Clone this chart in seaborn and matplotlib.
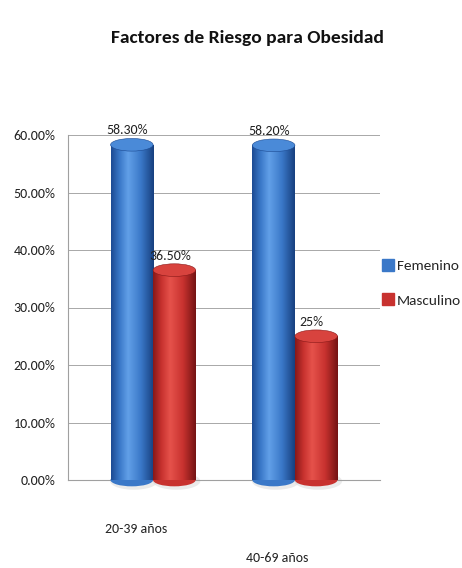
import numpy as np
import pandas as pd
import matplotlib
matplotlib.use("Agg")
import matplotlib.pyplot as plt
from matplotlib import font_manager
from matplotlib.patches import Ellipse
from matplotlib.lines import Line2D
from matplotlib.colors import LinearSegmentedColormap
from matplotlib.transforms import ScaledTranslation
import seaborn as sns

# ---- data ----
grupos = ["20-39 años", "40-69 años"]
series = ["Femenino", "Masculino"]
femenino = [58.3, 58.2]
masculino = [36.5, 25.0]
etiquetas_fem = ["58.30%", "58.20%"]
etiquetas_mas = ["36.50%", "25%"]
yticks = [0, 10, 20, 30, 40, 50, 60]
ytick_labels = ["0.00%", "10.00%", "20.00%", "30.00%", "40.00%", "50.00%", "60.00%"]
titulo = "Factores de Riesgo para Obesidad"

df = pd.DataFrame({
    "grupo": grupos * 2,
    "sexo": [series[0]] * len(grupos) + [series[1]] * len(grupos),
    "valor": femenino + masculino,
})

sns.set_theme(style="white")
names = {f.name for f in font_manager.fontManager.ttflist}
prefs = ["Carlito", "Liberation Sans Narrow", "Roboto Condensed", "Lato"]
fams = [p for p in prefs if p in names] + ["DejaVu Sans"]
plt.rcParams["font.family"] = fams

blue = "#3a78c8"
red = "#c8322f"
shades = {
    blue: ["#1c4a92", "#3a78c8", "#62a0e8", "#3a78c8", "#173f7e"],
    red: ["#871818", "#c8322f", "#e6524b", "#c8322f", "#731313"],
}
tops = {blue: "#4a8ad8", red: "#d8433e"}

fig = plt.figure(figsize=(4.62, 5.68), dpi=100)
ax = fig.add_axes([68 / 462, 88 / 568, 312 / 462, 345 / 568])

sns.barplot(data=df, x="grupo", y="valor", hue="sexo", palette=[blue, red],
            width=0.6, gap=0.0, saturation=1, legend=False, ax=ax,
            edgecolor="none", zorder=3)

grad = np.linspace(0, 1, 256).reshape(1, -1)
labels_all = etiquetas_fem + etiquetas_mas
colors_all = [blue] * len(grupos) + [red] * len(grupos)
for patch, lab, col in zip(ax.patches, labels_all, colors_all):
    x0, w, h = patch.get_x(), patch.get_width(), patch.get_height()
    cmap = LinearSegmentedColormap.from_list("c", list(zip([0, 0.2, 0.4, 0.7, 1], shades[col])))
    # soft shadow
    ax.add_patch(Ellipse((x0 + w / 2 + 0.015, -0.2), w * 1.12, 3.0, facecolor="#d4d4d4",
                         alpha=0.45, edgecolor="none", zorder=2.5, clip_on=False))
    ax.add_patch(Ellipse((x0 + w / 2, 0), w, 2.2, facecolor=shades[col][1],
                         edgecolor="none", zorder=3, clip_on=False))
    im = ax.imshow(grad, extent=[x0, x0 + w, 0, h], aspect="auto", cmap=cmap,
                   zorder=4, interpolation="bicubic")
    im.set_clip_path(patch)
    ax.add_patch(Ellipse((x0 + w / 2, h), w, 2.2, facecolor=tops[col],
                         edgecolor=shades[col][0], linewidth=0.4, zorder=5, clip_on=False))
    ax.text(x0 + w / 2 - 0.03, h + 1.5, lab, ha="center", va="bottom",
            fontsize=10, color="#222222", zorder=6, clip_on=False)

ax.set_xlim(-0.6, 1.6)
ax.set_ylim(0, 60)
ax.set_yticks(yticks)
ax.set_yticklabels(ytick_labels, fontsize=10)
ax.set_xticks(range(len(grupos)))
ax.set_xticklabels(grupos, fontsize=10)
ax.set_xlabel("")
ax.set_ylabel("")
ax.grid(axis="y", color="#a8a8a8", linewidth=0.7, zorder=0)
ax.set_axisbelow(True)
for s in ["top", "right"]:
    ax.spines[s].set_visible(False)
for s in ["left", "bottom"]:
    ax.spines[s].set_color("#a0a0a0")
    ax.spines[s].set_linewidth(0.8)
ax.tick_params(axis="y", length=4, color="#a0a0a0", pad=5, colors="#222222")
ax.tick_params(axis="x", length=0, colors="#222222")
ticks = ax.xaxis.get_major_ticks()
ticks[0].set_pad(31)
ticks[1].set_pad(52)
shifts = [-17, -18]
for t, dx in zip(ticks, shifts):
    lbl = t.label1
    lbl.set_transform(lbl.get_transform() + ScaledTranslation(dx / 100, 0, fig.dpi_scale_trans))

handles = [Line2D([0], [0], marker="s", linestyle="none", markersize=8,
                  markerfacecolor=c, markeredgecolor=c) for c in [blue, red]]
fig.legend(handles, series, loc="center left", bbox_to_anchor=(374 / 462, 1 - 283 / 568),
           frameon=False, fontsize=11, handletextpad=0.1, labelspacing=1.45,
           handlelength=1.0, borderaxespad=0)

fig.text(247 / 462, 1 - 38 / 568, titulo, ha="center", va="center",
         fontsize=14, fontweight="bold", color="#111111")

fig.savefig("out.png", dpi=100)
